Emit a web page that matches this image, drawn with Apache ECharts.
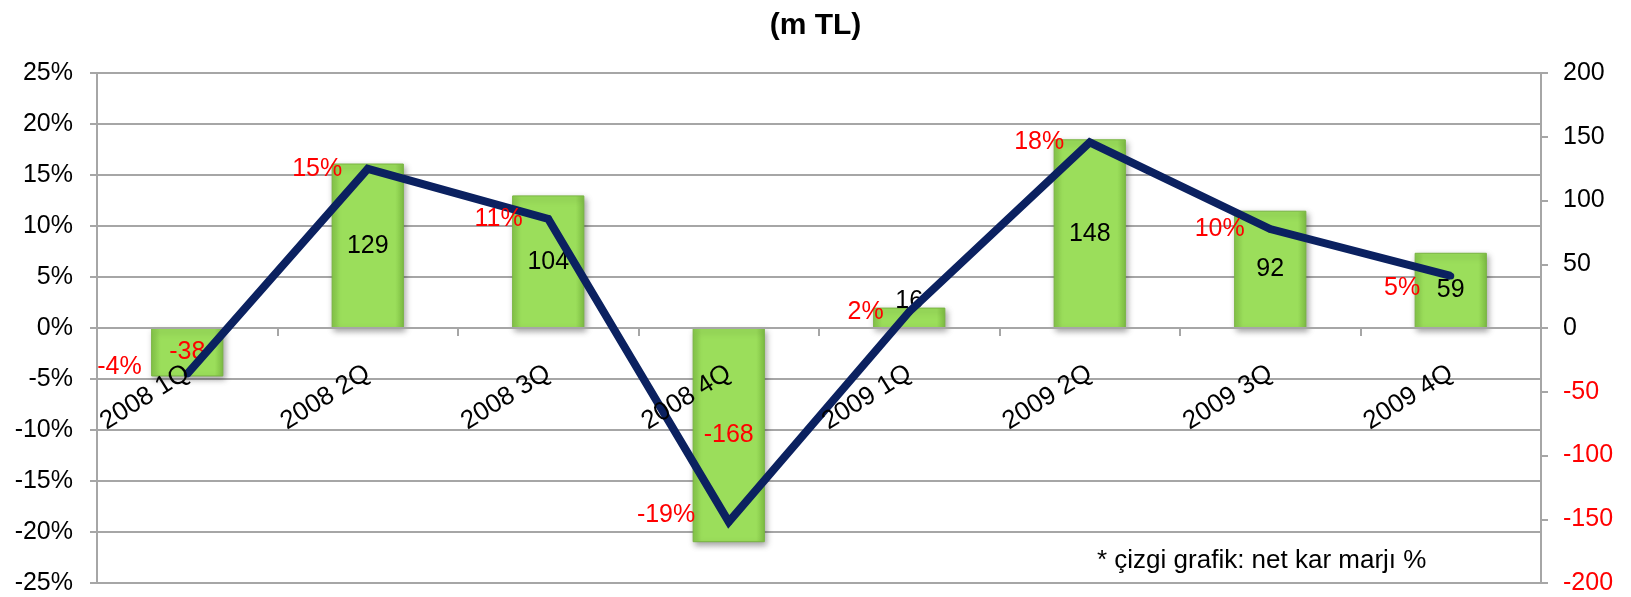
<!DOCTYPE html>
<html>
<head>
<meta charset="utf-8">
<script src="https://cdn.jsdelivr.net/npm/echarts@6/dist/echarts.min.js"></script>
<style>
html,body{margin:0;padding:0;background:#fff;}
#c{width:1631px;height:597px;}
</style>
</head>
<body>
<div id="c"></div>
<script>
const categories = ['2008 1Q','2008 2Q','2008 3Q','2008 4Q','2009 1Q','2009 2Q','2009 3Q','2009 4Q'];
const netProfit = [-38, 129, 104, -168, 16, 148, 92, 59];          // m TL (bars, right axis)
const netMargin = [-4.5, 15.6, 10.7, -19.0, 1.6, 18.2, 9.7, 5.1];   // % (line, left axis)
const marginLabels = ['-4%','15%','11%','-19%','2%','18%','10%','5%'];
const titleText = '(m TL)';
const noteText = '* çizgi grafik: net kar marjı %';

const FONT = '"Liberation Sans", Arial, sans-serif';
const RED = '#ff0000';
const GRID = '#a6a6a6';
const NAVY = '#0b2160';

const W = 1631, H = 597;
const GRID_TOP = 73, GRID_BOTTOM = 14;
const plotH = H - GRID_TOP - GRID_BOTTOM;

// label nudges (style only, keyed by category index)
const lineLabelNudge = {0: [-20, -7], 3: [-8, -7], 7: [-5, 12]};

const barFill = {
  type: 'linear', x: 0, y: 0, x2: 1, y2: 0,
  colorStops: [
    {offset: 0, color: '#86c84a'},
    {offset: 0.12, color: '#9bde5b'},
    {offset: 0.88, color: '#9bde5b'},
    {offset: 1, color: '#7fbf44'}
  ]
};

const barData = netProfit.map(v => {
  const item = {value: v, label: {color: v < 0 ? RED : '#000'}};
  if (Math.abs(v) < 30) { item.label.position = 'top'; item.label.distance = -6; }
  return item;
});

const lineData = netMargin.map((v, i) => {
  const item = {value: v};
  if (lineLabelNudge[i]) item.label = {offset: lineLabelNudge[i]};
  return item;
});

const chart = echarts.init(document.getElementById('c'), null, {renderer: 'canvas'});
chart.setOption({
  animation: false,
  backgroundColor: '#fff',
  textStyle: {fontFamily: FONT},
  title: {
    text: titleText, left: 'center', top: 6,
    textStyle: {fontFamily: FONT, fontSize: 30, fontWeight: 'bold', color: '#000'}
  },
  grid: {left: 97, right: 90, top: GRID_TOP, bottom: GRID_BOTTOM, containLabel: false, outerBoundsMode: 'none'},
  graphic: [{
    type: 'text', left: 1097, top: 548,
    style: {text: noteText, font: '26px ' + FONT, fill: '#000'}
  }],
  xAxis: [{
    type: 'category', data: categories, boundaryGap: true,
    axisLine: {onZero: true, lineStyle: {color: GRID, width: 2}},
    axisTick: {show: true, length: 8, lineStyle: {color: GRID, width: 2}},
    axisLabel: {show: false},
    z: 3
  }, {
    type: 'category', data: categories, boundaryGap: true, position: 'bottom',
    offset: -plotH / 2,
    axisLine: {show: false, onZero: false},
    axisTick: {show: false},
    axisLabel: {rotate: 32, margin: 43, fontSize: 26, color: '#000', fontFamily: FONT},
    z: 5
  }],
  yAxis: [{
    type: 'value', min: -25, max: 25, interval: 5, position: 'left',
    axisLine: {show: true, lineStyle: {color: GRID, width: 2}},
    axisTick: {show: true, length: 7, lineStyle: {color: GRID, width: 2}},
    axisLabel: {formatter: '{value}%', fontSize: 25, color: '#000', margin: 24, fontFamily: FONT},
    splitLine: {show: true, lineStyle: {color: GRID, width: 2}}
  }, {
    type: 'value', min: -200, max: 200, interval: 50, position: 'right',
    axisLine: {show: true, lineStyle: {color: GRID, width: 2}},
    axisTick: {show: true, length: 7, lineStyle: {color: GRID, width: 2}},
    axisLabel: {fontSize: 25, margin: 22, fontFamily: FONT,
      color: v => (Number(v) < 0 ? RED : '#000')},
    splitLine: {show: false}
  }],
  series: [{
    type: 'bar', yAxisIndex: 1, xAxisIndex: 0, data: barData, barWidth: '40%',
    itemStyle: {color: barFill, borderColor: '#78b440', borderWidth: 1,
      shadowBlur: 6, shadowColor: 'rgba(0,0,0,0.35)', shadowOffsetX: 2, shadowOffsetY: 3},
    label: {show: true, position: 'inside', fontSize: 25, fontFamily: FONT},
    z: 2
  }, {
    type: 'line', yAxisIndex: 0, xAxisIndex: 0, data: lineData,
    symbol: 'circle', symbolSize: 7, showSymbol: true,
    itemStyle: {color: NAVY},
    lineStyle: {color: NAVY, width: 8, join: 'miter', cap: 'butt'},
    label: {show: true, position: 'left', distance: 22, fontSize: 25, color: RED, fontFamily: FONT,
      formatter: p => marginLabels[p.dataIndex]},
    z: 4
  }]
});
</script>
</body>
</html>
